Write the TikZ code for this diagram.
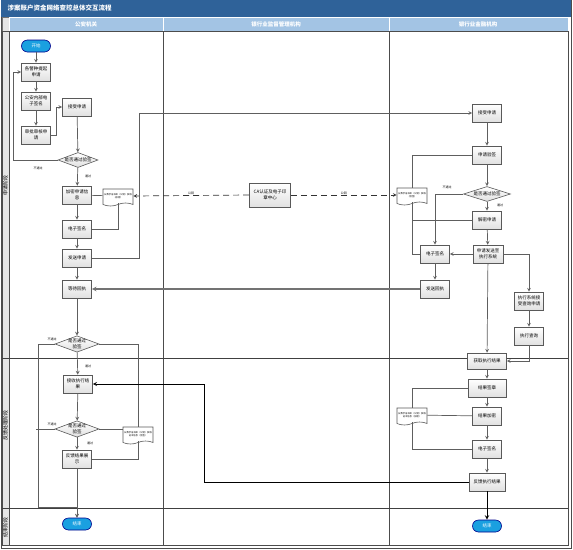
\documentclass[tikz,border=0pt]{standalone}
\usepackage{fontspec}
\setmainfont{Noto Sans CJK SC}
\usepackage{xcolor}
\usepackage{tikz}
\usetikzlibrary{shapes.geometric, shapes.symbols, arrows, positioning, shadows, calc}

\definecolor{titleblue}{HTML}{2F6299}
\definecolor{headblue}{HTML}{A3C4E4}
\definecolor{termblue}{HTML}{1AA0E0}
\definecolor{linegray}{HTML}{5E5E5E}

\begin{document}
\begin{tikzpicture}[
    x=1pt, y=-1pt,
    every node/.style={font=\fontsize{4.5}{5.6}\selectfont},
    process/.style={rectangle, draw=black!65, top color=white, bottom color=black!12, line width=0.6pt, minimum width=29pt, minimum height=18pt, inner sep=0.5pt, align=center, drop shadow={shadow xshift=0.8pt, shadow yshift=-0.8pt, opacity=0.3}},
    decision/.style={diamond, draw=black!65, top color=white, bottom color=black!12, line width=0.6pt, aspect=2.7, inner sep=0pt, minimum width=40pt, minimum height=15pt, align=center},
    document/.style={tape, tape bend top=none, tape bend height=3pt, draw=black!65, fill=white, line width=0.6pt, minimum width=30pt, minimum height=17pt, inner sep=0.5pt, align=center, font=\fontsize{2.3}{3}\selectfont},
    terminal/.style={rectangle, rounded corners=6pt, draw=blue!55!black, fill=termblue, text=white, line width=0.6pt, minimum width=29pt, minimum height=12pt},
    note/.style={font=\fontsize{3}{3.5}\selectfont, inner sep=0pt},
    arrow/.style={->, >=stealth, draw=linegray, line width=0.7pt},
    link/.style={draw=linegray, line width=0.7pt}
]

\useasboundingbox (0,0) rectangle (573,549);

% frame and lanes
\draw[black!70, line width=0.8pt] (1,0) rectangle (571,548);
\fill[titleblue] (1,0) rectangle (571,17);
\node[anchor=west, text=white, font=\fontsize{6.5}{7}\selectfont\bfseries] (title) at (4,8.5) {涉案账户资金网络查控总体交互流程};
\draw[black!55, fill=black!10] (2,17) rectangle (9,545);
\draw[white, fill=headblue] (9,17) rectangle (163,31);
\draw[white, fill=headblue] (163,17) rectangle (389,31);
\draw[white, fill=headblue] (389,17) rectangle (568,31);
\node[text=white, font=\fontsize{5.5}{6}\selectfont\bfseries] (lane1) at (86,24) {公安机关};
\node[text=white, font=\fontsize{5.5}{6}\selectfont\bfseries] (lane2) at (276,24) {银行业监督管理机构};
\node[text=white, font=\fontsize{5.5}{6}\selectfont\bfseries] (lane3) at (478,24) {银行业金融机构};
\draw[black!70, line width=0.8pt] (9,31) rectangle (163,545);
\draw[black!70, line width=0.8pt] (163,31) rectangle (389,545);
\draw[black!70, line width=0.8pt] (389,31) rectangle (568,545);
\draw[black!70, line width=0.8pt] (2,31) rectangle (9,545);
\draw[black!75, line width=0.8pt] (2,358) -- (568,358);
\draw[black!75, line width=0.8pt] (2,508) -- (568,508);
\node[rotate=90, font=\fontsize{5}{5.5}\selectfont] (phase1) at (5.5,185) {申请阶段};
\node[rotate=90, font=\fontsize{5}{5.5}\selectfont] (phase2) at (5.5,425) {反馈处理阶段};
\node[rotate=90, font=\fontsize{5}{5.5}\selectfont] (phase3) at (5.5,527) {结束阶段};

% police
\node[terminal] (pstart) at (36,46) {开始};
\node[process] (papply) at (36,72) {各警种提起\\申请};
\node[process] (psign) at (36,101) {公安内部电\\子签名};
\node[process] (paudit) at (36,135) {审批审核申\\请};
\node[process] (precv) at (77,107) {接受申请};
\node[decision] (pcheck) at (78,160) {是否通过验签};
\node[process] (pencrypt) at (77,195) {加密申请信\\息};
\node[document] (pkey) at (118,196) {从数字证书库（公钥）获取\\（加密）};
\node[process] (pesign) at (77,229) {电子签名};
\node[process] (psend) at (77,258) {发送申请};
\node[process] (pwait) at (77,289) {等待回执};
\node[decision] (pcheckb) at (77,344) {是否通过\\验签};
\node[process] (pgetres) at (78,384) {接收执行结\\果};
\node[decision] (pcheckc) at (77,429) {是否通过\\验签};
\node[document] (pkeyb) at (138,434) {从数字证书库（公钥）获取\\证书信息（验签）};
\node[process] (pshow) at (77,459) {反馈结果展\\示};
\node[terminal] (pend) at (77,524) {结束};

% supervisor
\node[process, minimum width=41pt, minimum height=24pt] (ca) at (270,195) {CA认证及电子印\\章中心};

% bank
\node[process] (brecv) at (487,113) {接受申请};
\node[process] (bverify) at (487,155) {申请验签};
\node[decision, minimum width=47pt] (bcheck) at (487,194) {是否通过验签};
\node[process] (bdecrypt) at (487,220) {解密申请};
\node[document] (bkey) at (412,195) {从数字证书库（公钥）获取\\（验签）};
\node[process] (besign) at (435,254) {电子签名};
\node[process, minimum width=30pt] (bforward) at (488,254) {申请发送至\\执行系统};
\node[process] (breceipt) at (435,289) {发送回执};
\node[process] (bsys) at (529,301) {执行系统接\\受查询申请};
\node[process] (bquery) at (529,336) {执行查询};
\node[process, minimum width=39pt, minimum height=16pt] (bresult) at (487,361) {获取执行结果};
\node[process, minimum width=38pt] (bseal) at (487,388) {结果签章};
\node[process] (bencrypt) at (487,416) {结果加密};
\node[document] (bkeyb) at (412,415) {从数字证书库（公钥）获取\\证书信息（加密）};
\node[process] (besignb) at (487,449) {电子签名};
\node[process, minimum width=36pt] (breply) at (487,482) {反馈执行结果};
\node[terminal] (bend) at (487,526) {结束};

% police flow
\draw[arrow] (pstart) -- (papply);
\draw[arrow] (papply) -- (psign);
\draw[arrow] (psign) -- (paudit);
\draw[arrow] (paudit.east) -- ++(6,0) |- (precv.west);
\draw[arrow] (precv) -- (pcheck);
\draw[arrow] (pcheck.west) -| ([xshift=-8pt]papply.west) -- (papply.west);
\node[note] (nofail1) at (38,168) {不通过};
\node[note] (nopass1) at (88,176) {通过};
\draw[arrow] (pcheck) -- (pencrypt);
\draw[link] (pencrypt) -- (pkey);
\draw[link] (pkey.south) |- (pesign.east);
\draw[arrow] (pencrypt) -- (pesign);
\draw[arrow] (pesign) -- (psend);
\draw[arrow] (psend) -- (pwait);
\draw[arrow] (psend.east) -- ++(48,0) |- (brecv.west);
\draw[arrow] (pwait) -- (pcheckb);
\draw[arrow] (pcheckb.west) -| ([xshift=-39pt, yshift=10pt]pend.north) -| (pend.north);
\node[note] (nofail2) at (52,339) {不通过};
\draw[link] (pcheckb.east) -| (pkeyb.north);
\draw[arrow] (pcheckb) -- (pgetres);
\node[note] (nopass2) at (88,366) {通过};
\draw[arrow] (pgetres) -- (pcheckc);
\draw[link] (pcheckc.west) -- ++(-19,0);
\node[note] (nofail3) at (52,424) {不通过};
\draw[link] (pcheckc.east) -- (pcheckc.east -| pkeyb.west);
\draw[link] (pkeyb.south) |- (pshow.east);
\draw[arrow] (pcheckc) -- (pshow);
\node[note] (nopass3) at (90,443) {通过};
\draw[arrow] (pshow) -- (pend);

% CA links
\draw[arrow, black!80, dash pattern=on 6pt off 4pt] (ca.west) -- (pkey.east);
\draw[arrow, black!80, dash pattern=on 6pt off 4pt] (ca.east) -- (bkey.west);
\node[note, above=0.3pt of ca.west, xshift=-58pt] (keya) {公钥};
\node[note, above=0.3pt of ca.east, xshift=53pt] (keyb) {公钥};

% bank flow
\draw[arrow] (brecv) -- (bverify);
\draw[arrow] (bverify) -- (bcheck);
\draw[link] (bverify.west) -| (bkey.north);
\draw[link] (bkey.south) |- (bdecrypt.west);
\draw[link] (bkey.south) |- (besign.west);
\draw[arrow] (bcheck.west) -| (besign.north);
\node[note] (nofail4) at (447,187) {不通过};
\draw[arrow] (bcheck) -- (bdecrypt);
\node[note] (nopass4) at (500,205) {通过};
\draw[arrow] (bdecrypt) -- (bforward);
\draw[arrow] (bforward) -- (besign);
\draw[arrow] (besign) -- (breceipt);
\draw[arrow, line width=1.1pt, draw=black!55] (breceipt) -- (pwait);
\draw[arrow] (bforward.east) -| (bsys.north);
\draw[arrow] (bsys) -- (bquery);
\draw[arrow] (bquery.south) |- (bresult.east);
\draw[arrow] (bforward) -- (bresult);
\draw[arrow] (bresult) -- (bseal);
\draw[link] (bseal.west) -| (bkeyb.north);
\draw[link] (bkeyb) -- (bencrypt);
\draw[link] (bkeyb.south) |- (besignb.west);
\draw[arrow] (bseal) -- (bencrypt);
\draw[arrow] (bencrypt) -- (besignb);
\draw[arrow] (besignb) -- (breply);
\draw[arrow, draw=black, line width=1pt] (breply) -- (bend);
\draw[arrow, draw=black, line width=0.9pt] (breply.west) -- ++(-264,0) |- (pgetres.east);

\end{tikzpicture}
\end{document}
